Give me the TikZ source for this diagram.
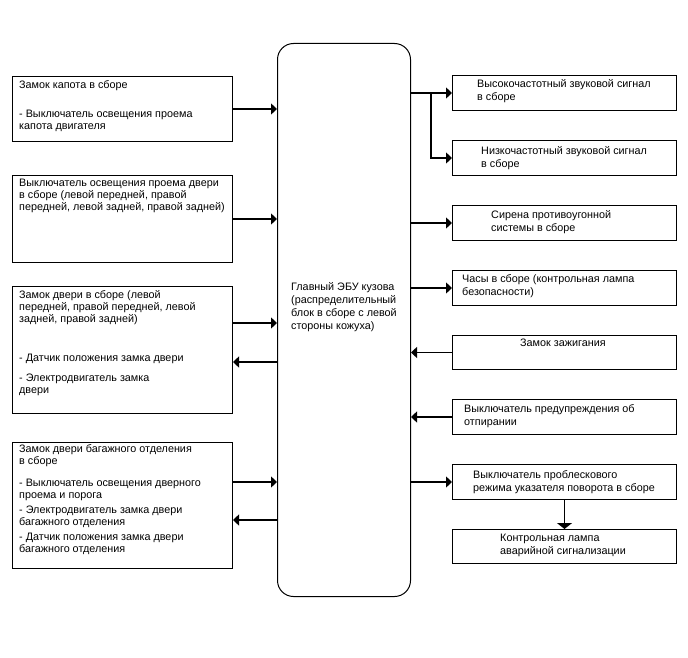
\documentclass[tikz,border=0pt]{standalone}
\usepackage{fontspec}
\setmainfont{Liberation Sans}
\usetikzlibrary{arrows.meta,positioning,calc}

\begin{document}
\begin{tikzpicture}[
  x=1pt, y=-1pt,
  unit/.style={rectangle, draw, line width=1pt, inner sep=0pt, anchor=north west,
               minimum width=220pt},
  runit/.style={unit, minimum width=224pt, minimum height=35pt},
  ecubox/.style={rectangle, draw, line width=1pt, rounded corners=16pt, inner sep=0pt,
                 anchor=north west, minimum width=133pt, minimum height=553pt},
  txt/.style={anchor=north west, align=left, inner sep=0pt,
              font=\fontsize{10.8}{12}\selectfont},
  rtxt/.style={txt, font=\fontsize{10.8}{13}\selectfont},
  arrow/.style={-{Triangle[length=6pt,width=11pt]}, line width=1.3pt}
]
\useasboundingbox (0,0) rectangle (688,658);

% central ECU
\node[ecubox] (ecu) at (277,43) {};
\node[rtxt] (ecut) at (291,282) {Главный ЭБУ кузова\\(распределительный\\блок в сборе с левой\\стороны кожуха)};

% left side
\node[unit, minimum height=65pt] (zkap) at (12,76) {};
\node[txt] (zkapt) at (19,80) {Замок капота в сборе\\[17pt]- Выключатель освещения проема\\капота двигателя};

\node[unit, minimum height=87pt] (vdv) at (12,175) {};
\node[txt] (vdvt) at (19,179) {Выключатель освещения проема двери\\в сборе (левой передней, правой\\передней, левой задней, правой задней)};

\node[unit, minimum height=127pt] (zdv) at (12,286) {};
\node[txt] (zdvt) at (19,290) {Замок двери в сборе (левой\\передней, правой передней, левой\\задней, правой задней)\\[27pt]- Датчик положения замка двери\\[8pt]- Электродвигатель замка\\двери};

\node[unit, minimum height=126pt] (zbag) at (12,442) {};
\node[txt] (zbagt) at (19,444) {Замок двери багажного отделения\\в сборе\\[10pt]- Выключатель освещения дверного\\проема и порога\\[3pt]- Электродвигатель замка двери\\багажного отделения\\[3pt]- Датчик положения замка двери\\багажного отделения};

% right side
\node[runit] (vzs) at (452,75) {};
\node[rtxt] (vzst) at (477,79) {Высокочастотный звуковой сигнал\\в сборе};
\node[runit] (nzs) at (452,140) {};
\node[rtxt] (nzst) at (481,146) {Низкочастотный звуковой сигнал\\в сборе};
\node[runit] (sir) at (452,205) {};
\node[rtxt] (sirt) at (491,210) {Сирена противоугонной\\системы в сборе};
\node[runit] (chas) at (452,270) {};
\node[rtxt] (chast) at (462,274) {Часы в сборе (контрольная лампа\\безопасности)};
\node[runit, minimum height=34pt] (zzh) at (452,335) {};
\node[rtxt] (zzht) at (520,339) {Замок зажигания};
\node[runit] (vpo) at (452,399) {};
\node[rtxt] (vpot) at (464,404) {Выключатель предупреждения об\\отпирании};
\node[runit] (vpr) at (452,464) {};
\node[rtxt] (vprt) at (473,470) {Выключатель проблескового\\режима указателя поворота в сборе};
\node[runit, minimum height=34pt] (klamp) at (452,529) {};
\node[rtxt] (klampt) at (500,534) {Контрольная лампа\\аварийной сигнализации};

% connectors, left
\coordinate (zdv-in) at ($(zdv.north east)+(0,37)$);
\coordinate (zdv-out) at ($(zdv.north east)+(0,76)$);
\coordinate (zbag-in) at ($(zbag.north east)+(0,40)$);
\coordinate (zbag-out) at ($(zbag.north east)+(0,78)$);
\draw[arrow] (zkap.east) -- (zkap.east -| ecu.west);
\draw[arrow] (vdv.east) -- (vdv.east -| ecu.west);
\draw[arrow] (zdv-in) -- (zdv-in -| ecu.west);
\draw[arrow] (zdv-out -| ecu.west) -- (zdv-out);
\draw[arrow] (zbag-in) -- (zbag-in -| ecu.west);
\draw[arrow] (zbag-out -| ecu.west) -- (zbag-out);

% connectors, right
\coordinate (br) at ($(ecu.east |- vzs.west)+(20,0)$);
\draw[arrow] (ecu.east |- vzs.west) -- (vzs.west);
\draw[arrow] (br) |- (nzs.west);
\draw[arrow] (ecu.east |- sir.west) -- (sir.west);
\draw[arrow] (ecu.east |- chas.west) -- (chas.west);
\draw[arrow] (zzh.west) -- (zzh.west -| ecu.east);
\draw[arrow] (vpo.west) -- (vpo.west -| ecu.east);
\draw[arrow] (ecu.east |- vpr.west) -- (vpr.west);
\draw[arrow, -{Triangle[length=6pt,width=15pt]}] (vpr.south) -- (klamp.north);
\end{tikzpicture}
\end{document}
